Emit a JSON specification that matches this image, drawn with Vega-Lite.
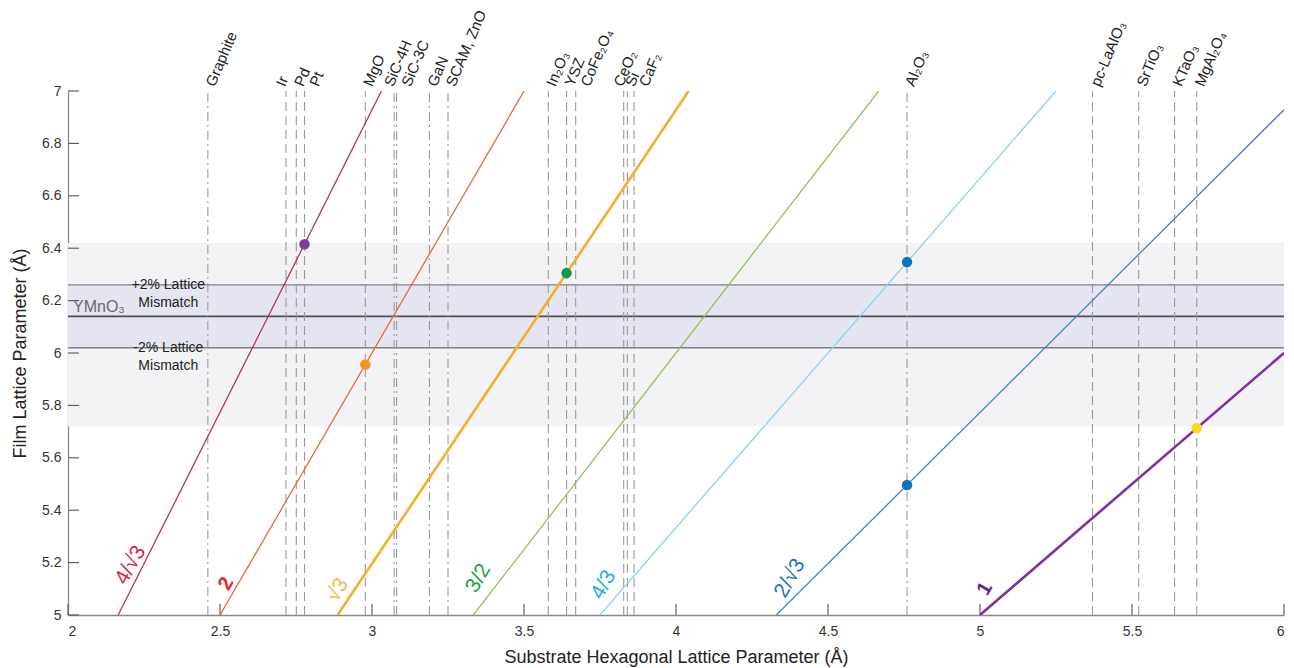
{
  "$schema": "https://vega.github.io/schema/vega-lite/v6.json",
  "width": 1216,
  "height": 524,
  "autosize": {"type": "none"},
  "padding": {"left": 68, "top": 91, "right": 10, "bottom": 53},
  "background": "white",
  "config": {
    "view": {"stroke": null},
    "font": "Liberation Sans, Arial, Helvetica, sans-serif",
    "axis": {
      "grid": false,
      "ticks": false,
      "domainColor": "#8a8a8a",
      "domainWidth": 1.3,
      "labelFontSize": 14,
      "labelColor": "#333333",
      "titleFontSize": 18,
      "titleFontWeight": "normal",
      "titleColor": "#222222"
    }
  },
  "datasets": {
    "bands": [
      {"zone": "wide", "lo": 5.72, "hi": 6.42},
      {"zone": "±2%", "lo": 6.02, "hi": 6.26}
    ],
    "mismatch": [
      {"level": "+2%", "film": 6.26, "note": "+2% Lattice\nMismatch"},
      {"level": "YMnO3", "film": 6.14, "note": ""},
      {"level": "-2%", "film": 6.02, "note": "-2% Lattice\nMismatch"}
    ],
    "xTicks": [
      {"a": 2}, {"a": 2.5}, {"a": 3}, {"a": 3.5}, {"a": 4}, {"a": 4.5}, {"a": 5}, {"a": 5.5}, {"a": 6}
    ],
    "yTicks": [
      {"film": 5}, {"film": 5.2}, {"film": 5.4}, {"film": 5.6}, {"film": 5.8}, {"film": 6},
      {"film": 6.2}, {"film": 6.4}, {"film": 6.6}, {"film": 6.8}, {"film": 7}
    ],
    "substrates": [
      {"name": "Graphite", "a": 2.46, "lattice": "hexagonal"},
      {"name": "Ir", "a": 2.717, "lattice": "cubic"},
      {"name": "Pd", "a": 2.751, "lattice": "cubic"},
      {"name": "Pt", "a": 2.778, "lattice": "cubic"},
      {"name": "MgO", "a": 2.978, "lattice": "cubic"},
      {"name": "SiC-4H", "a": 3.073, "lattice": "hexagonal"},
      {"name": "SiC-3C", "a": 3.081, "lattice": "hexagonal"},
      {"name": "GaN", "a": 3.189, "lattice": "hexagonal"},
      {"name": "SCAM, ZnO", "a": 3.25, "lattice": "hexagonal"},
      {"name": "In₂O₃", "a": 3.58, "lattice": "cubic"},
      {"name": "YSZ", "a": 3.64, "lattice": "cubic"},
      {"name": "CoFe₂O₄", "a": 3.67, "lattice": "cubic"},
      {"name": "CeO₂", "a": 3.828, "lattice": "cubic"},
      {"name": "Si", "a": 3.84, "lattice": "cubic"},
      {"name": "CaF₂", "a": 3.862, "lattice": "cubic"},
      {"name": "Al₂O₃", "a": 4.76, "lattice": "hexagonal"},
      {"name": "pc-LaAlO₃", "a": 5.37, "lattice": "cubic"},
      {"name": "SrTiO₃", "a": 5.522, "lattice": "cubic"},
      {"name": "KTaO₃", "a": 5.64, "lattice": "cubic"},
      {"name": "MgAl₂O₄", "a": 5.713, "lattice": "cubic"}
    ],
    "ratios": [
      {"ratio": "4/√3", "a": 2.1651, "film": 5},
      {"ratio": "4/√3", "a": 3.0311, "film": 7},
      {"ratio": "2", "a": 2.5, "film": 5},
      {"ratio": "2", "a": 3.5, "film": 7},
      {"ratio": "√3", "a": 2.8868, "film": 5},
      {"ratio": "√3", "a": 4.0415, "film": 7},
      {"ratio": "3/2", "a": 3.3333, "film": 5},
      {"ratio": "3/2", "a": 4.6667, "film": 7},
      {"ratio": "4/3", "a": 3.75, "film": 5},
      {"ratio": "4/3", "a": 5.25, "film": 7},
      {"ratio": "2/√3", "a": 4.3301, "film": 5},
      {"ratio": "2/√3", "a": 6.0, "film": 6.9282},
      {"ratio": "1", "a": 5.0, "film": 5},
      {"ratio": "1", "a": 6.0, "film": 6.0}
    ],
    "ratioTags": [
      {"ratio": "4/√3", "a": 2.206, "film": 5.19},
      {"ratio": "2", "a": 2.52, "film": 5.12},
      {"ratio": "√3", "a": 2.888, "film": 5.095},
      {"ratio": "3/2", "a": 3.35, "film": 5.14},
      {"ratio": "4/3", "a": 3.762, "film": 5.115},
      {"ratio": "2/√3", "a": 4.375, "film": 5.14},
      {"ratio": "1", "a": 5.016, "film": 5.1}
    ],
    "matches": [
      {"substrate": "Pt", "a": 2.778, "film": 6.415},
      {"substrate": "MgO", "a": 2.978, "film": 5.956},
      {"substrate": "YSZ", "a": 3.64, "film": 6.305},
      {"substrate": "Al₂O₃", "a": 4.76, "film": 6.347},
      {"substrate": "Al₂O₃", "a": 4.76, "film": 5.496},
      {"substrate": "MgAl₂O₄", "a": 5.713, "film": 5.713}
    ]
  },
  "layer": [
    {
      "data": {"name": "bands"},
      "mark": {"type": "rect"},
      "encoding": {
        "y": {"field": "lo", "type": "quantitative", "scale": {"domain": [5, 7], "nice": false, "zero": false}},
        "y2": {"field": "hi"},
        "color": {"field": "zone", "type": "nominal", "scale": {"domain": ["wide", "±2%"], "range": ["#f3f3f6", "#e5e5f1"]}, "legend": null}
      }
    },
    {
      "data": {"name": "mismatch"},
      "transform": [{"filter": "datum.level !== 'YMnO3'"}],
      "mark": {"type": "rule", "color": "#7d7d86", "strokeWidth": 1.3},
      "encoding": {
        "y": {"field": "film", "type": "quantitative", "scale": {"domain": [5, 7], "nice": false, "zero": false}}
      }
    },
    {
      "data": {"name": "mismatch"},
      "transform": [{"filter": "datum.level === 'YMnO3'"}],
      "mark": {"type": "rule", "color": "#4f4f55", "strokeWidth": 1.8},
      "encoding": {
        "y": {"field": "film", "type": "quantitative", "scale": {"domain": [5, 7], "nice": false, "zero": false}}
      }
    },
    {
      "data": {"name": "xTicks"},
      "mark": {"type": "rule", "color": "#555555", "strokeWidth": 1.1},
      "encoding": {
        "x": {"field": "a", "type": "quantitative", "scale": {"domain": [2, 6], "nice": false, "zero": false}},
        "y": {"datum": 5, "type": "quantitative"},
        "y2": {"datum": 5.042}
      }
    },
    {
      "data": {"name": "yTicks"},
      "mark": {"type": "rule", "color": "#555555", "strokeWidth": 1.1},
      "encoding": {
        "y": {"field": "film", "type": "quantitative", "scale": {"domain": [5, 7], "nice": false, "zero": false}},
        "x": {"datum": 2, "type": "quantitative"},
        "x2": {"datum": 2.036}
      }
    },
    {
      "data": {"name": "substrates"},
      "mark": {"type": "rule", "color": "#9a9a9a", "strokeWidth": 1.1},
      "encoding": {
        "x": {"field": "a", "type": "quantitative", "scale": {"domain": [2, 6], "nice": false, "zero": false}},
        "y": {"datum": 5, "type": "quantitative"},
        "y2": {"datum": 7},
        "strokeDash": {"field": "lattice", "type": "nominal", "scale": {"domain": ["hexagonal", "cubic"], "range": [[9, 4, 2, 4], [9, 5]]}, "legend": null}
      }
    },
    {
      "data": {"name": "ratios"},
      "transform": [{"filter": "datum.ratio !== '√3' && datum.ratio !== '1'"}],
      "mark": {"type": "line", "clip": true, "strokeWidth": 1.25},
      "encoding": {
        "x": {
          "field": "a", "type": "quantitative",
          "scale": {"domain": [2, 6], "nice": false, "zero": false},
          "axis": {"values": [2, 2.5, 3, 3.5, 4, 4.5, 5, 5.5, 6], "format": "~g", "labelPadding": 9, "titlePadding": 10},
          "title": "Substrate Hexagonal Lattice Parameter (Å)"
        },
        "y": {
          "field": "film", "type": "quantitative",
          "scale": {"domain": [5, 7], "nice": false, "zero": false},
          "axis": {"values": [5, 5.2, 5.4, 5.6, 5.8, 6, 6.2, 6.4, 6.6, 6.8, 7], "format": "~g", "labelPadding": 7, "titlePadding": 12},
          "title": "Film Lattice Parameter (Å)"
        },
        "detail": {"field": "ratio", "type": "nominal"},
        "color": {"field": "ratio", "type": "nominal", "scale": {"domain": ["4/√3", "2", "3/2", "4/3", "2/√3"], "range": ["#a8354c", "#e8653a", "#8cc152", "#86cff2", "#3483cf"]}, "legend": null}
      }
    },
    {
      "data": {"name": "ratios"},
      "transform": [{"filter": "datum.ratio === '√3' || datum.ratio === '1'"}],
      "mark": {"type": "line", "clip": true, "strokeWidth": 2.6},
      "encoding": {
        "x": {"field": "a", "type": "quantitative", "scale": {"domain": [2, 6], "nice": false, "zero": false}},
        "y": {"field": "film", "type": "quantitative", "scale": {"domain": [5, 7], "nice": false, "zero": false}},
        "detail": {"field": "ratio", "type": "nominal"},
        "color": {"field": "ratio", "type": "nominal", "scale": {"domain": ["√3", "1"], "range": ["#f0b02a", "#83309f"]}, "legend": null}
      }
    },
    {
      "data": {"name": "matches"},
      "mark": {"type": "point", "filled": true, "shape": "circle", "size": 110, "opacity": 1},
      "encoding": {
        "x": {"field": "a", "type": "quantitative", "scale": {"domain": [2, 6], "nice": false, "zero": false}},
        "y": {"field": "film", "type": "quantitative", "scale": {"domain": [5, 7], "nice": false, "zero": false}},
        "color": {"field": "substrate", "type": "nominal", "scale": {"domain": ["Pt", "MgO", "YSZ", "Al₂O₃", "MgAl₂O₄"], "range": ["#7d3c9c", "#f7931e", "#12984a", "#1273bd", "#fbd91c"]}, "legend": null}
      }
    },
    {
      "data": {"name": "substrates"},
      "transform": [{"filter": "indexof(['Ir', 'SiC-4H', 'CeO₂', 'Pt', 'SiC-3C', 'CoFe₂O₄', 'CaF₂'], datum.name) < 0"}],
      "mark": {"type": "text", "angle": -67, "align": "left", "baseline": "middle", "dx": 6, "fontSize": 15, "color": "#222222", "clip": false},
      "encoding": {
        "x": {"field": "a", "type": "quantitative", "scale": {"domain": [2, 6], "nice": false, "zero": false}},
        "y": {"datum": 7, "type": "quantitative"},
        "text": {"field": "name", "type": "nominal"}
      }
    },
    {
      "data": {"name": "substrates"},
      "transform": [{"filter": "indexof(['Ir', 'SiC-4H', 'CeO₂'], datum.name) >= 0"}],
      "mark": {"type": "text", "angle": -67, "align": "left", "baseline": "middle", "dx": 6, "xOffset": -8, "fontSize": 15, "color": "#222222", "clip": false},
      "encoding": {
        "x": {"field": "a", "type": "quantitative", "scale": {"domain": [2, 6], "nice": false, "zero": false}},
        "y": {"datum": 7, "type": "quantitative"},
        "text": {"field": "name", "type": "nominal"}
      }
    },
    {
      "data": {"name": "substrates"},
      "transform": [{"filter": "indexof(['Pt', 'SiC-3C', 'CoFe₂O₄', 'CaF₂'], datum.name) >= 0"}],
      "mark": {"type": "text", "angle": -67, "align": "left", "baseline": "middle", "dx": 6, "xOffset": 7, "fontSize": 15, "color": "#222222", "clip": false},
      "encoding": {
        "x": {"field": "a", "type": "quantitative", "scale": {"domain": [2, 6], "nice": false, "zero": false}},
        "y": {"datum": 7, "type": "quantitative"},
        "text": {"field": "name", "type": "nominal"}
      }
    },
    {
      "data": {"name": "ratioTags"},
      "transform": [{"filter": "datum.ratio !== '2' && datum.ratio !== '1'"}],
      "mark": {"type": "text", "angle": -60, "align": "center", "baseline": "middle", "fontSize": 21},
      "encoding": {
        "x": {"field": "a", "type": "quantitative", "scale": {"domain": [2, 6], "nice": false, "zero": false}},
        "y": {"field": "film", "type": "quantitative", "scale": {"domain": [5, 7], "nice": false, "zero": false}},
        "text": {"field": "ratio", "type": "nominal"},
        "color": {"field": "ratio", "type": "nominal", "scale": {"domain": ["4/√3", "√3", "3/2", "4/3", "2/√3"], "range": ["#d4264c", "#f9b54c", "#15a24c", "#1eaeea", "#1c72c2"]}, "legend": null}
      }
    },
    {
      "data": {"name": "ratioTags"},
      "transform": [{"filter": "datum.ratio === '2' || datum.ratio === '1'"}],
      "mark": {"type": "text", "angle": -60, "align": "center", "baseline": "middle", "fontSize": 20, "fontWeight": "bold"},
      "encoding": {
        "x": {"field": "a", "type": "quantitative", "scale": {"domain": [2, 6], "nice": false, "zero": false}},
        "y": {"field": "film", "type": "quantitative", "scale": {"domain": [5, 7], "nice": false, "zero": false}},
        "text": {"field": "ratio", "type": "nominal"},
        "color": {"field": "ratio", "type": "nominal", "scale": {"domain": ["2", "1"], "range": ["#ec2a2a", "#62288c"]}, "legend": null}
      }
    },
    {
      "data": {"name": "mismatch"},
      "transform": [{"filter": "datum.note !== ''"}],
      "mark": {"type": "text", "align": "center", "baseline": "middle", "fontSize": 14, "lineHeight": 18, "lineBreak": "\n", "color": "#222222"},
      "encoding": {
        "x": {"datum": 2.33, "type": "quantitative"},
        "y": {"field": "film", "type": "quantitative", "scale": {"domain": [5, 7], "nice": false, "zero": false}},
        "text": {"field": "note", "type": "nominal"}
      }
    },
    {
      "data": {"name": "mismatch"},
      "transform": [{"filter": "datum.level === 'YMnO3'"}],
      "mark": {"type": "text", "align": "left", "baseline": "alphabetic", "dx": 5, "dy": -4, "fontSize": 16, "color": "#6a6a6a"},
      "encoding": {
        "x": {"datum": 2, "type": "quantitative"},
        "y": {"field": "film", "type": "quantitative", "scale": {"domain": [5, 7], "nice": false, "zero": false}},
        "text": {"value": "YMnO₃"}
      }
    }
  ],
  "resolve": {"scale": {"color": "independent"}}
}
